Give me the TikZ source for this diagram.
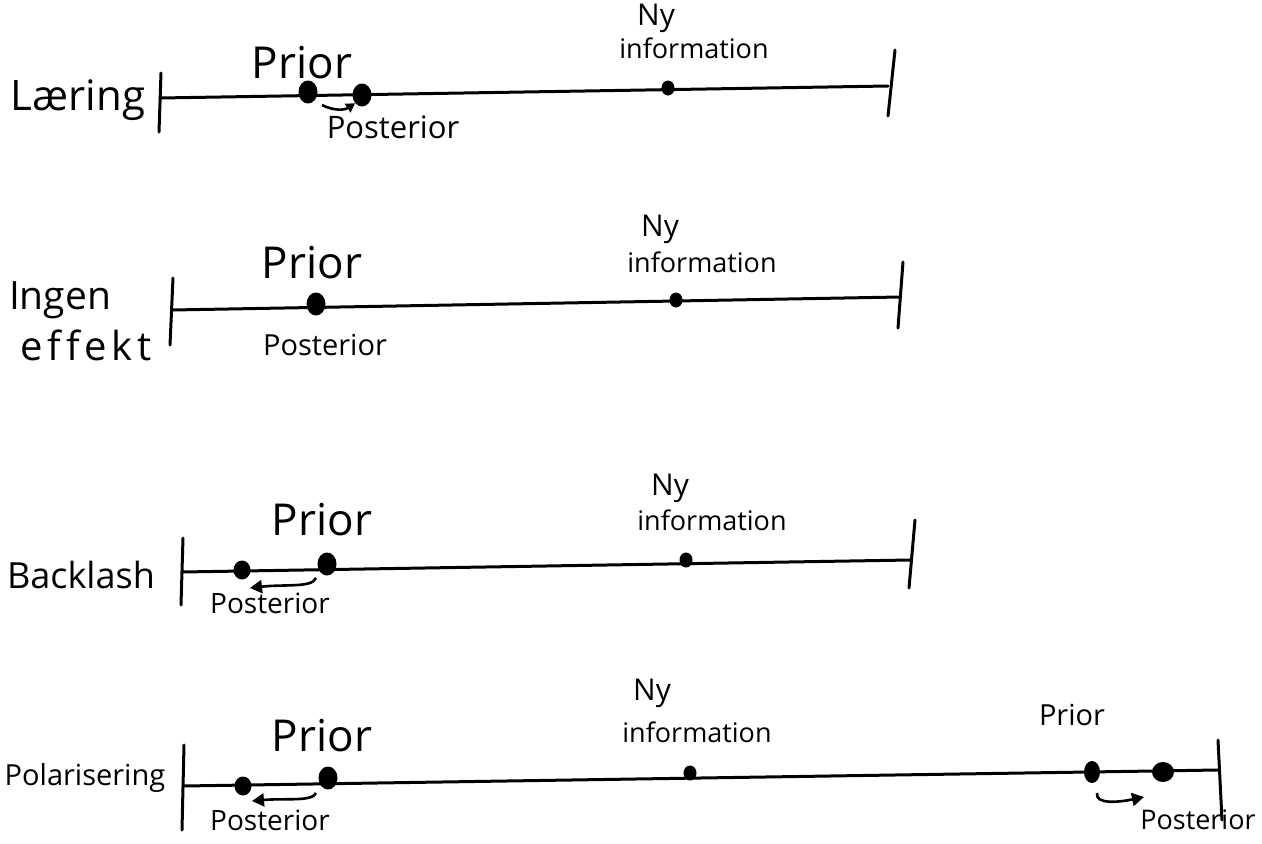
\documentclass[tikz,border=0pt]{standalone}
\usepackage{fontspec}
\setmainfont{Open Sans}
\usetikzlibrary{arrows.meta,shapes.geometric}
\begin{document}
\begin{tikzpicture}[x=1pt,y=-1pt,
  axis/.style={line width=3pt,line cap=round},
  tickline/.style={line width=3pt,line cap=round},
  bigdot/.style={ellipse,fill=black,minimum width=19pt,minimum height=23pt,inner sep=0pt},
  smalldot/.style={ellipse,fill=black,minimum width=13pt,minimum height=15pt,inner sep=0pt},
  rowlabel/.style={font=\fontsize{42}{44}\selectfont},
  priorlbl/.style={font=\fontsize{44}{46}\selectfont},
  postlbl/.style={font=\fontsize{28}{30}\selectfont},
  nylbl/.style={font=\fontsize{30}{32}\selectfont},
  infolbl/.style={font=\fontsize{27}{29}\selectfont},
  movearrow/.style={line width=2.6pt,-{Triangle[length=12pt,width=13pt]}}
]
\useasboundingbox (0,0) rectangle (1262,844);
% ---------- Row 1: Laering
\node[rowlabel] (lab1) at (78,100) {Læring};
\coordinate (L1) at (160,98); \coordinate (R1) at (888,86);
\coordinate (L1t) at (161,73); \coordinate (L1b) at (159,132);
\coordinate (R1t) at (895,50); \coordinate (R1b) at (888,116);
\draw[axis] (L1) -- (R1);
\draw[tickline] (L1t) -- (L1b);
\draw[tickline] (R1t) -- (R1b);
\node[bigdot] (p1) at (308,92) {};
\node[bigdot] (q1) at (362,95) {};
\node[smalldot] (n1) at (668,88) {};
\coordinate (a1s) at (322,105);
\draw[movearrow,-{Triangle[length=9pt,width=10pt]}] (a1s) to[bend right=30] (q1.south west);
\node[priorlbl] (pl1) at (302,63) {Prior};
\node[postlbl,font=\fontsize{31}{33}\selectfont] (ql1) at (393,127) {Posterior};
\node[nylbl] (ny1) at (656,18) {Ny};
\node[infolbl] (in1) at (694,48) {information};
% ---------- Row 2: Ingen effekt
\node[font=\fontsize{39}{41}\selectfont] (lab2a) at (60,300) {Ingen};
\node[font=\fontsize{40}{42}\selectfont\addfontfeature{LetterSpace=12,Ligatures=NoCommon}] (lab2b) at (86,345) {effekt};
\coordinate (L2) at (172,310); \coordinate (R2) at (900,297);
\coordinate (L2t) at (173,278); \coordinate (L2b) at (170,345);
\coordinate (R2t) at (903,262); \coordinate (R2b) at (898,328);
\draw[axis] (L2) -- (R2);
\draw[tickline] (L2t) -- (L2b);
\draw[tickline] (R2t) -- (R2b);
\node[bigdot] (p2) at (316,304) {};
\node[smalldot] (n2) at (676,300) {};
\node[priorlbl] (pl2) at (312,263) {Prior};
\node[postlbl,font=\fontsize{29}{31}\selectfont] (ql2) at (325,345) {Posterior};
\node[nylbl] (ny2) at (660,229) {Ny};
\node[infolbl] (in2) at (702,262) {information};
% ---------- Row 3: Backlash
\node[font=\fontsize{36}{38}\selectfont] (lab3) at (81,575) {Backlash};
\coordinate (L3) at (182,572); \coordinate (R3) at (910,560);
\coordinate (L3t) at (183,538); \coordinate (L3b) at (181,605);
\coordinate (R3t) at (915,520); \coordinate (R3b) at (909,588);
\draw[axis] (L3) -- (R3);
\draw[tickline] (L3t) -- (L3b);
\draw[tickline] (R3t) -- (R3b);
\node[bigdot,minimum width=17pt,minimum height=19pt] (q3) at (242,570) {};
\node[bigdot] (p3) at (327,564) {};
\node[smalldot] (n3) at (686,560) {};
\coordinate (a3s) at (316,578);
\coordinate (a3e) at (250,588);
\draw[movearrow] (a3s) .. controls (312,588) and (285,584) .. (a3e);
\node[priorlbl] (pl3) at (322,520) {Prior};
\node[postlbl] (ql3) at (270,603) {Posterior};
\node[nylbl] (ny3) at (670,488) {Ny};
\node[infolbl] (in3) at (712,520) {information};
% ---------- Row 4: Polarisering
\node[font=\fontsize{29}{31}\selectfont] (lab4) at (85,778) {Polarisering};
\coordinate (L4) at (183,786); \coordinate (R4) at (1218,770);
\coordinate (L4t) at (184,745); \coordinate (L4b) at (182,830);
\coordinate (R4t) at (1218,740); \coordinate (R4b) at (1222,820);
\draw[axis] (L4) -- (R4);
\draw[tickline] (L4t) -- (L4b);
\draw[tickline] (R4t) -- (R4b);
\node[bigdot,minimum width=17pt,minimum height=19pt] (q4) at (243,786) {};
\node[bigdot] (p4) at (328,778) {};
\node[smalldot] (n4) at (690,773) {};
\node[bigdot,minimum width=16pt,minimum height=22pt] (p4r) at (1092,772) {};
\node[bigdot,minimum width=22pt,minimum height=20pt] (q4r) at (1163,772) {};
\coordinate (a4s) at (316,793);
\coordinate (a4e) at (252,801);
\draw[movearrow] (a4s) .. controls (312,802) and (285,798) .. (a4e);
\coordinate (a4rs) at (1097,793);
\coordinate (a4re) at (1144,797);
\draw[movearrow] (a4rs) .. controls (1095,805) and (1120,802) .. (a4re);
\node[priorlbl] (pl4) at (322,736) {Prior};
\node[postlbl] (ql4) at (270,820) {Posterior};
\node[nylbl] (ny4) at (652,693) {Ny};
\node[infolbl] (in4) at (697,732) {information};
\node[font=\fontsize{29}{31}\selectfont] (pl4r) at (1072,715) {Prior};
\node[postlbl,font=\fontsize{27}{29}\selectfont] (ql4r) at (1198,820) {Posterior};
\end{tikzpicture}
\end{document}
